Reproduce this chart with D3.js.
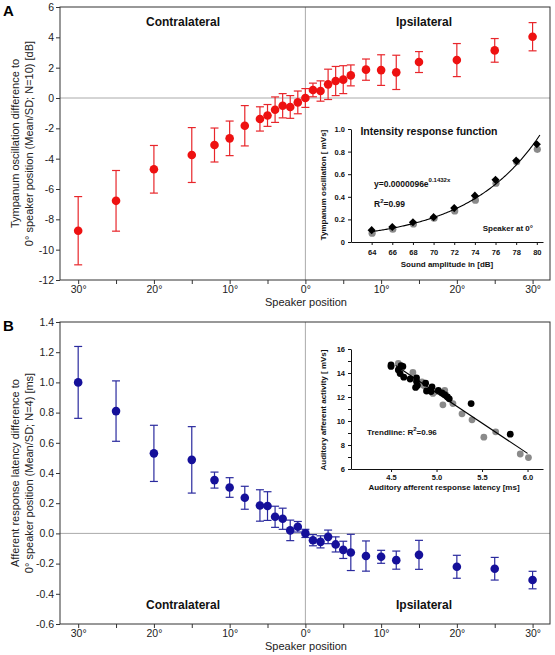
<!DOCTYPE html>
<html><head><meta charset="utf-8">
<script src="https://cdn.jsdelivr.net/npm/d3@7"></script>
<style>body{margin:0;background:#fff} svg{display:block} text{font-family:Arial,"Liberation Sans",sans-serif}</style>
</head><body><svg id="c" width="555" height="655"></svg>
<script>
// ---------- data ----------
const positions = [-30,-25,-20,-15,-12,-10,-8,-6,-5,-4,-3,-2,-1,0,1,2,3,4,5,6,8,10,12,15,20,25,30];
const tympMean = [-8.75,-6.78,-4.70,-3.76,-3.10,-2.66,-1.83,-1.38,-1.15,-0.77,-0.51,-0.59,-0.29,0.0,0.53,0.46,0.90,1.12,1.21,1.49,1.87,1.84,1.69,2.37,2.50,3.14,4.04];
const tympSD = [2.25,2.0,1.57,1.81,1.12,1.14,1.33,0.80,0.72,0.84,0.80,0.75,0.75,0.62,0.45,0.67,1.0,0.96,0.92,0.69,0.70,1.01,1.13,0.69,1.09,0.78,0.93];
const latMean = [1.0,0.81,0.53,0.487,0.353,0.304,0.236,0.185,0.181,0.11,0.097,0.02,0.044,0.0,-0.045,-0.056,-0.023,-0.073,-0.109,-0.126,-0.15,-0.155,-0.177,-0.142,-0.221,-0.234,-0.309];
const latSD = [0.238,0.2,0.186,0.22,0.053,0.065,0.076,0.104,0.095,0.07,0.07,0.068,0.035,0.027,0.037,0.04,0.045,0.05,0.057,0.12,0.1,0.043,0.06,0.096,0.076,0.075,0.058];
const tympTicks = [-12,-10,-8,-6,-4,-2,0,2,4,6];
const latTicks = [-0.6,-0.4,-0.2,0.0,0.2,0.4,0.6,0.8,1.0,1.2,1.4];
const posTicks = [-30,-25,-20,-15,-10,-5,0,5,10,15,20,25,30];

// inset A: intensity response function
const ampDb = [64,66,68,70,72,74,76,78,80];
const oscBlack = [0.105,0.133,0.175,0.22,0.30,0.41,0.55,0.72,0.865];
const oscGrey = [0.078,0.113,0.16,0.21,0.275,0.37,0.52,0.71,0.82];
const fitA = 0.0000096, fitK = 0.1432;
const ampTicks = [64,66,68,70,72,74,76,78,80];
const oscTicks = [0,0.2,0.4,0.6,0.8,1.0];

// inset B: activity vs latency
const latBlack = [4.50,4.50,4.61,4.63,4.58,4.60,4.64,4.71,4.78,4.78,4.79,4.77,4.88,4.89,4.94,4.95,5.02,5.06,5.09,5.12,5.14,5.38,5.81];
const actBlack = [14.67,14.55,14.62,14.55,14.25,13.95,13.65,13.50,13.60,13.30,12.95,12.80,13.15,12.50,12.45,12.85,12.55,12.35,12.20,12.00,11.85,11.45,8.90];
const latGrey = [4.58,4.74,4.84,4.93,4.99,5.09,5.07,5.18,5.28,5.39,5.52,5.65,5.92,6.01,4.86,4.96,5.10];
const actGrey = [14.80,14.05,13.25,12.60,12.45,12.55,11.35,11.45,10.60,10.10,8.65,9.10,7.25,6.95,12.95,12.30,12.20];
const trendSlope = -5.05, trendIntercept = 37.6, trendRange = [4.55, 6.0];
const latAxisTicks = [4.5,5.0,5.5,6.0];
const actTicks = [6,7,8,9,10,11,12,13,14,15,16];

// ---------- drawing ----------
const svg = d3.select("#c");
const FRAME = "#333";

function mainPanel(o) {
  const g = svg.append("g");
  const x = d3.scaleLinear().domain([-32.4, 32.3]).range([60, 550]);
  const y = d3.scaleLinear().domain(o.yDomain).range([o.bottom, o.top]);
  g.append("line").attr("x1", 60).attr("x2", 550).attr("y1", y(0)).attr("y2", y(0)).attr("stroke", "#aaa").attr("stroke-width", 1);
  g.append("line").attr("x1", x(0)).attr("x2", x(0)).attr("y1", o.top).attr("y2", o.bottom).attr("stroke", "#aaa").attr("stroke-width", 1);
  const ya = g.append("g").attr("transform", `translate(60,0)`)
    .call(d3.axisLeft(y).tickValues(o.yTicks).tickSize(4).tickPadding(2).tickFormat(o.yFmt));
  const xa = g.append("g").attr("transform", `translate(0,${o.bottom})`)
    .call(d3.axisBottom(x).tickValues(posTicks).tickSize(4).tickPadding(2)
      .tickFormat(d => d % 10 === 0 ? Math.abs(d) + "°" : ""));
  [ya, xa].forEach(a => {
    a.select(".domain").remove();
    a.selectAll("line").attr("stroke", FRAME);
    a.selectAll("text").attr("font-size", 10.5).attr("fill", "#222");
  });
  g.append("rect").attr("x", 60).attr("y", o.top).attr("width", 490).attr("height", o.bottom - o.top)
    .attr("fill", "none").attr("stroke", FRAME).attr("stroke-width", 1);
  const data = positions.map((p, i) => ({p, m: o.mean[i], s: o.sd[i]}));
  const eb = g.append("g").attr("stroke", o.barColor).attr("stroke-width", 1.2);
  data.forEach(d => {
    const cx = x(d.p), y1 = y(d.m + d.s), y2 = y(d.m - d.s);
    eb.append("line").attr("x1", cx).attr("x2", cx).attr("y1", y1).attr("y2", y2);
    eb.append("line").attr("x1", cx - 4).attr("x2", cx + 4).attr("y1", y1).attr("y2", y1);
    eb.append("line").attr("x1", cx - 4).attr("x2", cx + 4).attr("y1", y2).attr("y2", y2);
  });
  g.append("g").selectAll("circle").data(data).join("circle")
    .attr("cx", d => x(d.p)).attr("cy", d => y(d.m)).attr("r", 4.3).attr("fill", o.color);
  g.append("text").attr("x", 306).attr("y", o.bottom + 26).attr("text-anchor", "middle").attr("font-size", 11).attr("fill", "#222").text("Speaker position");
  const cy = (o.top + o.bottom) / 2;
  o.yTitle.forEach((t, i) => {
    g.append("text").attr("transform", `translate(${15 + i * 14},${cy}) rotate(-90)`).attr("dy", "0.35em")
      .attr("text-anchor", "middle").attr("font-size", 11).attr("fill", "#222").text(t);
  });
  g.append("text").attr("x", 183).attr("y", o.sideY).attr("text-anchor", "middle").attr("font-size", 12).attr("font-weight", "bold").attr("fill", "#111").text("Contralateral");
  g.append("text").attr("x", 424).attr("y", o.sideY).attr("text-anchor", "middle").attr("font-size", 12).attr("font-weight", "bold").attr("fill", "#111").text("Ipsilateral");
  g.append("text").attr("x", 3).attr("y", o.letterY).attr("font-size", 15).attr("font-weight", "bold").text(o.letter);
}

mainPanel({top: 7, bottom: 280, yDomain: [-12, 6], yTicks: tympTicks, yFmt: d => String(d),
  mean: tympMean, sd: tympSD, color: "#ee1111", barColor: "#e8262b",
  yTitle: ["Tympanum oscillation difference to", "0° speaker position (Mean/SD; N=10) [dB]"],
  sideY: 26, letter: "A", letterY: 16});
mainPanel({top: 322, bottom: 624, yDomain: [-0.6, 1.4], yTicks: latTicks, yFmt: d => d.toFixed(1),
  mean: latMean, sd: latSD, color: "#15109a", barColor: "#2a2a9e",
  yTitle: ["Afferent response latency difference to", "0° speaker position (Mean/SD; N=4) [ms]"],
  sideY: 609, letter: "B", letterY: 331});

function styleInsetAxis(a) {
  a.select(".domain").attr("stroke", "#111");
  a.selectAll("line").attr("stroke", "#111");
  a.selectAll("text").attr("font-size", 7.5).attr("font-weight", "bold").attr("fill", "#111");
}

// ---------- inset A ----------
{
  const g = svg.append("g");
  const x = d3.scaleLinear().domain([62, 80.6]).range([351, 543]);
  const y = d3.scaleLinear().domain([0, 1]).range([242, 129]);
  const xa = g.append("g").attr("transform", "translate(0,242)")
    .call(d3.axisBottom(x).tickValues(ampTicks).tickSize(3).tickPadding(5).tickSizeOuter(0));
  const ya = g.append("g").attr("transform", "translate(351,0)")
    .call(d3.axisLeft(y).tickValues(oscTicks).tickSize(3).tickPadding(3).tickSizeOuter(0)
      .tickFormat(d => d === 0 ? "0" : d.toFixed(1)));
  styleInsetAxis(xa); styleInsetAxis(ya);
  g.append("g").selectAll("circle").data(ampDb).join("circle")
    .attr("cx", (d) => x(d) + 0.5).attr("cy", (d, i) => y(oscGrey[i])).attr("r", 3.6).attr("fill", "#8a8a8a");
  const sym = d3.symbol().type(d3.symbolDiamond2).size(42);
  g.append("g").selectAll("path").data(ampDb).join("path")
    .attr("transform", (d, i) => `translate(${x(d)},${y(oscBlack[i])})`).attr("d", sym).attr("fill", "#000");
  const xs = d3.range(64, 80.35, 0.1);
  g.append("path").datum(xs).attr("fill", "none").attr("stroke", "#000").attr("stroke-width", 1.1)
    .attr("d", d3.line().x(d => x(d)).y(d => y(fitA * Math.exp(fitK * d))));
  g.append("text").attr("x", 429).attr("y", 135).attr("text-anchor", "middle").attr("font-size", 10.5).attr("font-weight", "bold").attr("fill", "#111").text("Intensity response function");
  g.append("text").attr("x", 447).attr("y", 267).attr("text-anchor", "middle").attr("font-size", 8).attr("font-weight", "bold").attr("fill", "#111").text("Sound amplitude in [dB]");
  g.append("text").attr("transform", "translate(323,185) rotate(-90)").attr("dy", "0.35em").attr("text-anchor", "middle").attr("font-size", 8).attr("font-weight", "bold").attr("fill", "#111").text("Tympanum oscillation [ mVs]");
  const eq = g.append("text").attr("x", 374).attr("y", 187).attr("font-size", 8.5).attr("font-weight", "bold").attr("fill", "#111");
  eq.append("tspan").text("y=0.0000096e");
  eq.append("tspan").attr("dy", -5).attr("font-size", 6).text(fitK + "x");
  const r2 = g.append("text").attr("x", 374).attr("y", 207).attr("font-size", 8.5).attr("font-weight", "bold").attr("fill", "#111");
  r2.append("tspan").text("R");
  r2.append("tspan").attr("dy", -4).attr("font-size", 6).text("2");
  r2.append("tspan").attr("dy", 4).text("=0.99");
  g.append("text").attr("x", 533).attr("y", 231).attr("text-anchor", "end").attr("font-size", 8).attr("font-weight", "bold").attr("fill", "#111").text("Speaker at 0°");
}

// ---------- inset B ----------
{
  const g = svg.append("g");
  const x = d3.scaleLinear().domain([4.06, 6.17]).range([351, 543]);
  const y = d3.scaleLinear().domain([6, 16]).range([469, 349]);
  const xa = g.append("g").attr("transform", "translate(0,469)")
    .call(d3.axisBottom(x).tickValues(latAxisTicks).tickSize(3).tickPadding(3).tickSizeOuter(0).tickFormat(d => d.toFixed(1)));
  const ya = g.append("g").attr("transform", "translate(351,0)")
    .call(d3.axisLeft(y).tickValues(actTicks).tickSize(3).tickPadding(3).tickSizeOuter(0)
      .tickFormat(d => d % 2 === 0 ? String(d) : ""));
  styleInsetAxis(xa); styleInsetAxis(ya);
  g.append("g").selectAll("circle").data(latGrey).join("circle")
    .attr("cx", d => x(d)).attr("cy", (d, i) => y(actGrey[i])).attr("r", 3.4).attr("fill", "#8a8a8a");
  g.append("g").selectAll("circle").data(latBlack).join("circle")
    .attr("cx", d => x(d)).attr("cy", (d, i) => y(actBlack[i])).attr("r", 3.4).attr("fill", "#000");
  g.append("path").datum(trendRange).attr("fill", "none").attr("stroke", "#000").attr("stroke-width", 1.1)
    .attr("d", d3.line().x(d => x(d)).y(d => y(trendIntercept + trendSlope * d)));
  g.append("text").attr("x", 444).attr("y", 490).attr("text-anchor", "middle").attr("font-size", 8).attr("font-weight", "bold").attr("fill", "#111").text("Auditory afferent response latency [ms]");
  g.append("text").attr("transform", "translate(323,410) rotate(-90)").attr("dy", "0.35em").attr("text-anchor", "middle").attr("font-size", 8).attr("font-weight", "bold").attr("fill", "#111").text("Auditory afferent activity [ mVs]");
  const t = g.append("text").attr("x", 367).attr("y", 435).attr("font-size", 8).attr("font-weight", "bold").attr("fill", "#111");
  t.append("tspan").text("Trendline: R");
  t.append("tspan").attr("dy", -4).attr("font-size", 6).text("2");
  t.append("tspan").attr("dy", 4).text("=0.96");
}
</script></body></html>
